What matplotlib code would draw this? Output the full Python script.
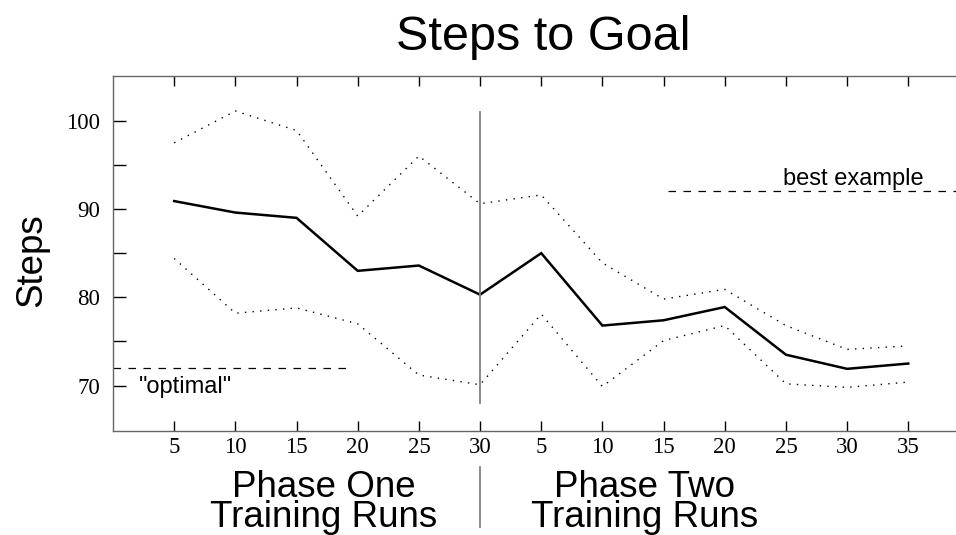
import matplotlib
matplotlib.use("Agg")
import matplotlib.pyplot as plt
from matplotlib.lines import Line2D
from matplotlib.transforms import blended_transform_factory

# Training runs: six checkpoints in phase one, seven in phase two
run_labels = ["5", "10", "15", "20", "25", "30",
              "5", "10", "15", "20", "25", "30", "35"]
mean_steps = [90.9, 89.6, 89.0, 83.0, 83.6, 80.3,
              85.0, 76.8, 77.4, 78.9, 73.5, 71.9, 72.5]
upper_steps = [97.5, 101.1, 98.9, 89.2, 96.0, 90.6,
               91.6, 83.9, 79.8, 80.9, 76.8, 74.1, 74.5]
lower_steps = [84.4, 78.2, 78.8, 77.0, 71.2, 70.1,
               78.1, 69.9, 75.1, 76.8, 70.2, 69.8, 70.4]

optimal_steps = 72.0
best_example_steps = 92.0
y_ticks = [70, 75, 80, 85, 90, 95, 100]
y_ticklabels = ["70", "", "80", "", "90", "", "100"]

W, H = 956, 535
fig = plt.figure(figsize=(W / 100, H / 100), dpi=100)
ax = fig.add_axes([113 / W, 1 - 431 / H, 1 - 113 / W, (431 - 75.7) / H])

pos = list(range(1, len(run_labels) + 1))
ax.plot(pos, mean_steps, color="black", lw=1.8, solid_joinstyle="miter")
ax.plot(pos, upper_steps, color="black", lw=1.0, ls=(0, (1, 4.5)))
ax.plot(pos, lower_steps, color="black", lw=1.0, ls=(0, (1, 4.5)))

# phase boundary
ax.plot([6, 6], [68.0, 101.0], color="#808080", lw=1.3)

# reference levels
ax.plot([0, 3.88], [optimal_steps] * 2, color="black", lw=0.9, ls=(0, (6, 6)))
ax.plot([9.07, 13.8], [best_example_steps] * 2, color="black", lw=0.9,
        ls=(0, (6, 6)))
ax.text(0.42, 69.2, '"optimal"', family="Liberation Sans", fontsize=17,
        va="baseline", ha="left")
ax.text(10.96, 92.72, "best example", family="Liberation Sans",
        fontsize=17, va="baseline", ha="left")

ax.set_xlim(0, 13.78)
ax.set_ylim(64.86, 105.1)
ax.set_xticks(pos)
ax.set_xticklabels(run_labels, family="Liberation Serif", fontsize=16.5)
ax.set_yticks(y_ticks)
ax.set_yticklabels(y_ticklabels, family="Liberation Serif", fontsize=16.5)
ax.tick_params(axis="x", direction="in", length=7, width=1.0, pad=4,
               top=True, bottom=True)
ax.tick_params(axis="y", direction="in", length=9, width=1.0, pad=9,
               left=True, right=False)
for side in ("left", "bottom", "top"):
    ax.spines[side].set_color("#666666")
    ax.spines[side].set_linewidth(1.0)
ax.spines["right"].set_visible(False)

fig.text(543.5 / W, 1 - 50 / H, "Steps to Goal", family="Liberation Sans",
         fontsize=35, ha="center", va="baseline")
fig.text(32 / W, 1 - 260 / H, "Steps", family="Liberation Sans",
         fontsize=26.5, rotation=90, ha="center", va="center")

fig.text(324 / W, 1 - 527 / H, "Phase One\nTraining Runs",
         family="Liberation Sans", fontsize=26.5, ha="center",
         va="baseline", linespacing=0.82)
fig.text(645 / W, 1 - 527 / H, "Phase Two\nTraining Runs",
         family="Liberation Sans", fontsize=26.5, ha="center",
         va="baseline", linespacing=0.82)
trans = blended_transform_factory(ax.transData, fig.transFigure)
fig.add_artist(Line2D([6, 6], [1 - 467 / H, 1 - 527 / H], transform=trans,
                      color="#808080", lw=1.3))

fig.savefig("out.png", dpi=100)
